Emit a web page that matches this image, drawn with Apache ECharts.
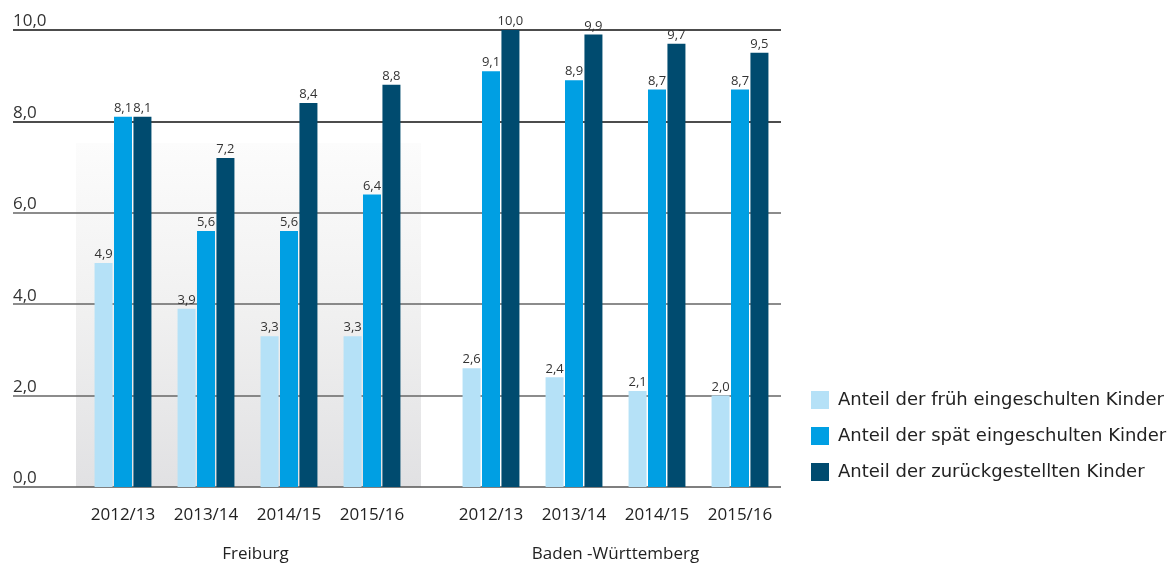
<!DOCTYPE html>
<html>
<head>
<meta charset="utf-8">
<script src="https://cdn.jsdelivr.net/npm/echarts@6/dist/echarts.min.js"></script>
<style>html,body{margin:0;padding:0;background:#fff}#c{width:1171px;height:565px}</style>
</head>
<body>
<div id="c"></div>
<script>
var years = ['2012/13', '2013/14', '2014/15', '2015/16'];
var groupNames = ['Freiburg', 'Baden -Württemberg'];
var seriesNames = ['Anteil der früh eingeschulten Kinder', 'Anteil der spät eingeschulten Kinder', 'Anteil der zurückgestellten Kinder'];
var freiburgFrueh = [4.9, 3.9, 3.3, 3.3];
var freiburgSpaet = [8.1, 5.6, 5.6, 6.4];
var freiburgZurueck = [8.1, 7.2, 8.4, 8.8];
var bwFrueh = [2.6, 2.4, 2.1, 2.0];
var bwSpaet = [9.1, 8.9, 8.7, 8.7];
var bwZurueck = [10.0, 9.9, 9.7, 9.5];
var colors = ['#b5e1f7', '#009fe3', '#004b6f'];

var FONT = '"Open Sans", "DejaVu Sans", sans-serif';
function fmt(v) { return Number(v).toFixed(1).replace('.', ','); }

var chart = echarts.init(document.getElementById('c'), null, {renderer: 'canvas'});
var gridTop = 30, gridBottom = 78;

function barSeries(name, data, idx, color) {
  return {
    type: 'bar', name: name, data: data,
    xAxisIndex: idx, yAxisIndex: idx,
    barWidth: 18, barGap: '8%',
    itemStyle: {color: color},
    label: {show: true, position: 'top', distance: 2, fontFamily: FONT, fontSize: 13, color: '#333',
      formatter: function (p) { return fmt(p.value); }},
    emphasis: {disabled: true}
  };
}

function catAxis(gi, name, pad) {
  return {gridIndex: gi, type: 'category', data: years, axisLine: {show: false}, axisTick: {show: false},
    axisLabel: {interval: 0, hideOverlap: false, fontFamily: FONT, fontSize: 17, color: '#222', margin: 20},
    name: name, nameLocation: 'middle', nameGap: 59,
    nameTextStyle: {fontFamily: FONT, fontSize: 17, color: '#222', padding: pad}};
}

chart.setOption({
  animation: false,
  color: colors,
  graphic: [{
    type: 'rect', z: -10,
    shape: {x: 76, y: 143, width: 345, height: 344},
    style: {fill: new echarts.graphic.LinearGradient(0, 0, 0, 1, [
      {offset: 0, color: '#fcfcfc'}, {offset: 0.5, color: '#f0f0f0'}, {offset: 1, color: '#e1e1e3'}])}
  }],
  grid: [
    {left: 13, right: 390, top: gridTop, bottom: gridBottom, outerBoundsMode: 'none', containLabel: false},
    {left: 81.5, width: 332, top: gridTop, bottom: gridBottom, outerBoundsMode: 'none', containLabel: false},
    {left: 449.5, width: 332, top: gridTop, bottom: gridBottom, outerBoundsMode: 'none', containLabel: false}
  ],
  xAxis: [
    {gridIndex: 0, type: 'value', min: 0, max: 1, show: false},
    catAxis(1, groupNames[0], [0, 0, 0, 16]),
    catAxis(2, groupNames[1], [0, 0, 0, 0])
  ],
  yAxis: [
    {gridIndex: 0, type: 'value', min: 0, max: 10, interval: 2,
      axisLine: {show: false}, axisTick: {show: false},
      axisLabel: {inside: true, margin: 0, verticalAlign: 'bottom', fontFamily: FONT, fontSize: 17, color: '#333',
        formatter: function (v) { return fmt(v); }},
      splitLine: {show: true, lineStyle: {color: ['#555', '#666', '#666', '#666', '#111', '#111'], width: 1.5}}},
    {gridIndex: 1, type: 'value', min: 0, max: 10, show: false, splitLine: {show: false}},
    {gridIndex: 2, type: 'value', min: 0, max: 10, show: false, splitLine: {show: false}}
  ],
  legend: {
    orient: 'vertical', left: 806, top: 386,
    itemWidth: 18, itemHeight: 18, itemGap: 18,
    icon: 'rect',
    data: seriesNames,
    textStyle: {fontFamily: '"DejaVu Sans", sans-serif', fontSize: 18, color: '#222', padding: [0, 0, 0, 4]}
  },
  series: [
    barSeries(seriesNames[0], freiburgFrueh, 1, colors[0]),
    barSeries(seriesNames[1], freiburgSpaet, 1, colors[1]),
    barSeries(seriesNames[2], freiburgZurueck, 1, colors[2]),
    barSeries(seriesNames[0], bwFrueh, 2, colors[0]),
    barSeries(seriesNames[1], bwSpaet, 2, colors[1]),
    barSeries(seriesNames[2], bwZurueck, 2, colors[2])
  ]
});
</script>
</body>
</html>
